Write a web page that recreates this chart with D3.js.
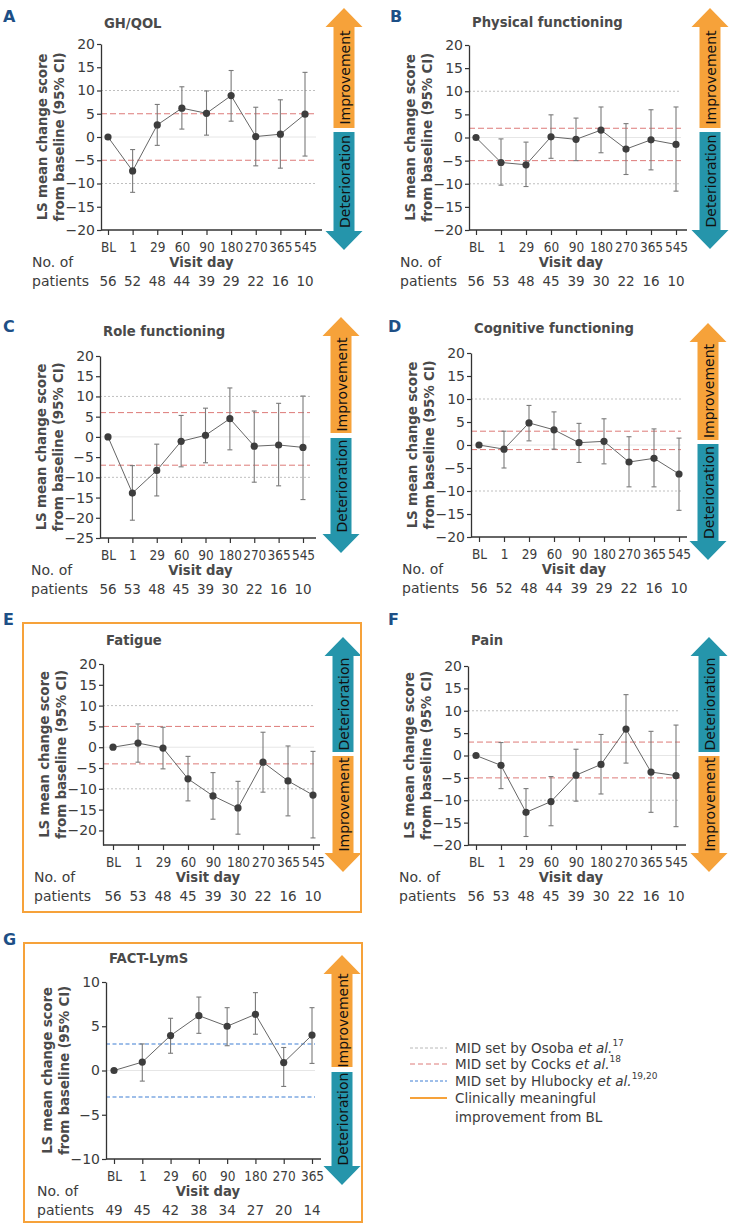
<!DOCTYPE html>
<html><head><meta charset="utf-8">
<script src="https://cdn.jsdelivr.net/npm/d3@7"></script>
<style>
body{margin:0;background:#fff}
svg{display:block}
svg text{font-family:"DejaVu Sans",Verdana,sans-serif}
svg text.xt{font-family:"DejaVu Sans Condensed","Liberation Sans",sans-serif}
</style>
</head><body>
<svg id="chart" width="730" height="1230"></svg>
<script>
// ---------- DATA ----------
const visitDays  = ["BL","1","29","60","90","180","270","365","545"];
const visitDaysG = ["BL","1","29","60","90","180","270","365"];
const yTicks20 = [-20,-15,-10,-5,0,5,10,15,20];
const yTicks25 = [-25,-20,-15,-10,-5,0,5,10,15,20];
const yTicks10 = [-10,-5,0,5,10];

// A GH/QOL
const ghqolMean  = [0,-7.3,2.6,6.2,5.1,8.9,0.1,0.6,4.9];
const ghqolLower = [null,-11.9,-1.8,1.7,0.4,3.4,-6.2,-6.7,-4.1];
const ghqolUpper = [null,-2.7,7.0,10.8,9.9,14.3,6.4,8.0,13.9];
const ghqolN     = [56,52,48,44,39,29,22,16,10];
const ghqolOsoba = [10,-10];
const ghqolCocks = [5,-5];

// B Physical functioning
const physMean  = [0,-5.4,-5.9,0.15,-0.4,1.6,-2.5,-0.5,-1.5];
const physLower = [null,-10.3,-10.6,-4.5,-5.0,-3.3,-8.0,-7.0,-11.6];
const physUpper = [null,-0.3,-1.0,4.9,4.2,6.6,3.0,6.0,6.6];
const physN     = [56,53,48,45,39,30,22,16,10];
const physOsoba = [10,-10];
const physCocks = [2,-5];

// C Role functioning
const roleMean  = [0,-13.9,-8.3,-1.1,0.4,4.5,-2.3,-2.0,-2.6];
const roleLower = [null,-20.6,-14.6,-7.4,-6.4,-3.2,-11.2,-12.1,-15.5];
const roleUpper = [null,-7.1,-1.8,5.3,7.1,12.1,6.4,8.3,10.1];
const roleN     = [56,53,48,45,39,30,22,16,10];
const roleOsoba = [10,-10];
const roleCocks = [6,-7];

// D Cognitive functioning
const cogMean  = [0,-0.9,4.8,3.3,0.5,0.8,-3.7,-2.9,-6.3];
const cogLower = [null,-5.0,0.9,-0.9,-3.8,-4.1,-9.1,-9.1,-14.2];
const cogUpper = [null,3.0,8.6,7.2,4.7,5.7,1.8,3.5,1.5];
const cogN     = [56,52,48,44,39,29,22,16,10];
const cogOsoba = [10,-10];
const cogCocks = [3,-1];

// E Fatigue
const fatMean  = [0,1.0,-0.2,-7.6,-11.7,-14.6,-3.6,-8.1,-11.5];
const fatLower = [null,-3.6,-5.2,-12.9,-17.3,-20.9,-10.8,-16.5,-21.8];
const fatUpper = [null,5.6,4.8,-2.2,-6.1,-8.2,3.6,0.3,-1.0];
const fatN     = [56,53,48,45,39,30,22,16,10];
const fatOsoba = [10,-10];
const fatCocks = [5,-4];

// F Pain
const painMean  = [0,-2.2,-12.7,-10.3,-4.4,-2.0,5.9,-3.7,-4.5];
const painLower = [null,-7.4,-18.1,-15.7,-10.2,-8.6,-1.7,-12.7,-15.9];
const painUpper = [null,2.9,-7.4,-4.7,1.4,4.7,13.6,5.4,6.8];
const painN     = [56,53,48,45,39,30,22,16,10];
const painOsoba = [10,-10];
const painCocks = [3,-5];

// G FACT-LymS
const lymsMean  = [0,0.95,3.95,6.2,5.0,6.35,0.9,4.0];
const lymsLower = [null,-1.2,1.95,4.2,2.8,4.1,-1.8,0.8];
const lymsUpper = [null,3.0,5.9,8.3,7.1,8.8,2.6,7.1];
const lymsN     = [49,45,42,38,34,27,20,14];
const lymsHlubocky = [3,-3];

// ---------- STYLE ----------
const TXT = "#3c3c3c";
const NAVY = "#1d4f86";
const ORANGE = "#f6a23a";
const TEAL = "#2595ab";
const OSOBA_C = "#b8b8b8";
const COCKS_C = "#dd7a78";
const HLUB_C = "#3f7fd4";

const svg = d3.select("#chart");

function arrow(cx, yA, yB, color, label) {
  const hw = 18.5, sw = 10.5, hh = 19;
  const dir = yB > yA ? 1 : -1;
  const hb = yA + dir*hh;
  const pts = [[cx,yA],[cx+hw,hb],[cx+sw,hb],[cx+sw,yB],[cx-sw,yB],[cx-sw,hb],[cx-hw,hb]];
  svg.append("path").attr("d", d3.line()(pts) + "Z").attr("fill", color);
  const mid = (hb + yB)/2;
  svg.append("text").attr("transform", `translate(${cx+0.5},${mid}) rotate(-90)`)
    .attr("text-anchor","middle").attr("dominant-baseline","central")
    .attr("font-size",14).attr("fill","#111").text(label);
}

function panel(c) {
  const g = svg.append("g");
  const x = d3.scalePoint().domain(c.cats).range([c.x0, c.x1]);
  const y = d3.scaleLinear().domain(c.yDomain).range([c.bottom, c.top]);

  g.append("text").attr("x", c.lx).attr("y", c.ly).attr("font-size",16).attr("font-weight","bold")
    .attr("fill", NAVY).text(c.letter);
  g.append("text").attr("x", c.left+3).attr("y", c.ty).attr("font-size",13.2).attr("font-weight","bold")
    .attr("fill", "#4a4a4a").text(c.title);

  // reference lines
  g.append("line").attr("x1",c.left).attr("x2",c.right-6).attr("y1",y(0)).attr("y2",y(0))
    .attr("stroke","#e6e6e6").attr("stroke-width",1);
  (c.osoba||[]).forEach(v => g.append("line").attr("x1",c.left).attr("x2",c.right-6)
    .attr("y1",y(v)).attr("y2",y(v)).attr("stroke",OSOBA_C).attr("stroke-width",0.9).attr("stroke-dasharray","2,2"));
  (c.cocks||[]).forEach(v => g.append("line").attr("x1",c.left).attr("x2",c.right-6)
    .attr("y1",y(v)).attr("y2",y(v)).attr("stroke",COCKS_C).attr("stroke-width",1).attr("stroke-dasharray","6,3"));
  (c.hlub||[]).forEach(v => g.append("line").attr("x1",c.left).attr("x2",c.right-6)
    .attr("y1",y(v)).attr("y2",y(v)).attr("stroke",HLUB_C).attr("stroke-width",1.1).attr("stroke-dasharray","4,2.5"));

  // y axis
  const ya = g.append("g").attr("transform",`translate(${c.left},0)`)
    .call(d3.axisLeft(y).tickValues(c.yTicks).tickSize(4).tickSizeOuter(0).tickPadding(2));
  ya.attr("font-family",null).attr("font-size",null);
  ya.select(".domain").attr("stroke","#333").attr("stroke-width",1.3);
  ya.selectAll(".tick line").attr("stroke","#333").attr("stroke-width",1.2);
  ya.selectAll(".tick text").attr("font-size",14).attr("fill",TXT);

  // x axis
  g.append("line").attr("x1",c.left).attr("x2",c.right).attr("y1",c.bottom).attr("y2",c.bottom)
    .attr("stroke","#333").attr("stroke-width",1.3);
  const xa = g.append("g").attr("transform",`translate(0,${c.bottom})`)
    .call(d3.axisBottom(x).tickSize(5).tickSizeOuter(0).tickPadding(4));
  xa.attr("font-family",null).attr("font-size",null);
  xa.select(".domain").remove();
  xa.selectAll(".tick line").attr("stroke","#333").attr("stroke-width",1.2);
  xa.selectAll(".tick text").attr("class","xt").attr("font-size",13.5).attr("fill",TXT)
    .attr("dy",null).attr("y",17).attr("dominant-baseline","central");

  // y label
  const my = (c.top + c.bottom)/2;
  [["LS mean change score", c.left-59],["from baseline (95% CI)", c.left-42]].forEach(([t,xx]) =>
    g.append("text").attr("transform",`translate(${xx},${my}) rotate(-90)`)
      .attr("text-anchor","middle").attr("dominant-baseline","central")
      .attr("font-size",13.5).attr("letter-spacing",-0.2).attr("font-weight","bold").attr("fill","#4a4a4a").text(t));

  // rows below
  const midX = (c.x0 + c.x1)/2 - 5;
  g.append("text").attr("x", c.left-69).attr("y", c.bottom+32).attr("dominant-baseline","central")
    .attr("font-size",14).attr("fill",TXT).text("No. of");
  g.append("text").attr("x", c.left-69).attr("y", c.bottom+51).attr("dominant-baseline","central")
    .attr("font-size",14).attr("fill",TXT).text("patients");
  g.append("text").attr("x", midX).attr("y", c.bottom+32).attr("dominant-baseline","central")
    .attr("text-anchor","middle").attr("font-size",13.2).attr("font-weight","bold").attr("fill","#4a4a4a").text("Visit day");
  g.selectAll(".cnt").data(c.n).join("text").attr("x",(d,i)=>x(c.cats[i])).attr("y",c.bottom+51)
    .attr("dominant-baseline","central").attr("text-anchor","middle").attr("font-size",13.5).attr("fill",TXT)
    .text(d=>d);

  // data
  const rows = c.cats.map((k,i)=>({k, m:c.mean[i], lo:c.lower[i], hi:c.upper[i]}));
  const eb = rows.filter(d=>d.lo!==null);
  g.selectAll(".eb").data(eb).join("line").attr("x1",d=>x(d.k)).attr("x2",d=>x(d.k))
    .attr("y1",d=>y(d.lo)).attr("y2",d=>y(d.hi)).attr("stroke","#7a7a7a").attr("stroke-width",1.1);
  ["lo","hi"].forEach(f => g.selectAll(".cap"+f).data(eb).join("line")
    .attr("x1",d=>x(d.k)-2.5).attr("x2",d=>x(d.k)+2.5).attr("y1",d=>y(d[f])).attr("y2",d=>y(d[f]))
    .attr("stroke","#7a7a7a").attr("stroke-width",1.1));
  g.append("path").datum(rows).attr("fill","none").attr("stroke","#666").attr("stroke-width",1)
    .attr("d", d3.line().x(d=>x(d.k)).y(d=>y(d.m)));
  g.selectAll(".pt").data(rows).join("circle").attr("cx",d=>x(d.k)).attr("cy",d=>y(d.m))
    .attr("r",3.6).attr("fill","#3d3d3d");

  c.arrows.forEach(a => arrow(c.acx, a[0], a[1], a[2], a[3]));

  if (c.box) svg.append("rect").attr("x",c.box[0]).attr("y",c.box[1]).attr("width",c.box[2]-c.box[0])
    .attr("height",c.box[3]-c.box[1]).attr("fill","none").attr("stroke",ORANGE).attr("stroke-width",2);
}

const IMP = "Improvement", DET = "Deterioration";

panel({letter:"A", lx:3, ly:22, title:"GH/QOL", ty:28, left:101, right:322, top:44, bottom:230, x0:108, x1:305,
  cats:visitDays, yDomain:[-20,20], yTicks:yTicks20, mean:ghqolMean, lower:ghqolLower, upper:ghqolUpper, n:ghqolN,
  osoba:ghqolOsoba, cocks:ghqolCocks, acx:344,
  arrows:[[8,128,ORANGE,IMP],[250,132,TEAL,DET]]});
panel({letter:"B", lx:390, ly:22, title:"Physical functioning", ty:27, left:469, right:687, top:45, bottom:230, x0:476, x1:676,
  cats:visitDays, yDomain:[-20,20], yTicks:yTicks20, mean:physMean, lower:physLower, upper:physUpper, n:physN,
  osoba:physOsoba, cocks:physCocks, acx:710,
  arrows:[[8,128,ORANGE,IMP],[249,132,TEAL,DET]]});
panel({letter:"C", lx:3, ly:332, title:"Role functioning", ty:336, left:100, right:316, top:356, bottom:538, x0:108, x1:303,
  cats:visitDays, yDomain:[-25,20], yTicks:yTicks25, mean:roleMean, lower:roleLower, upper:roleUpper, n:roleN,
  osoba:roleOsoba, cocks:roleCocks, acx:341,
  arrows:[[317,433,ORANGE,IMP],[553,438,TEAL,DET]]});
panel({letter:"D", lx:388, ly:332, title:"Cognitive functioning", ty:333, left:471, right:687, top:353, bottom:537, x0:479, x1:679,
  cats:visitDays, yDomain:[-20,20], yTicks:yTicks20, mean:cogMean, lower:cogLower, upper:cogUpper, n:cogN,
  osoba:cogOsoba, cocks:cogCocks, acx:708,
  arrows:[[323,440,ORANGE,IMP],[560,444,TEAL,DET]]});
panel({letter:"E", lx:3, ly:625, title:"Fatigue", ty:645, left:103, right:320, top:664, bottom:845, x0:113, x1:313,
  cats:visitDays, yDomain:[-23.5,20], yTicks:yTicks20, mean:fatMean, lower:fatLower, upper:fatUpper, n:fatN,
  osoba:fatOsoba, cocks:fatCocks, acx:343, box:[23,623,361,912],
  arrows:[[637,752,TEAL,DET],[872,756,ORANGE,IMP]]});
panel({letter:"F", lx:388, ly:625, title:"Pain", ty:645, left:468, right:686, top:666, bottom:845, x0:476, x1:676,
  cats:visitDays, yDomain:[-20,20], yTicks:yTicks20, mean:painMean, lower:painLower, upper:painUpper, n:painN,
  osoba:painOsoba, cocks:painCocks, acx:709,
  arrows:[[637,752,TEAL,DET],[872,756,ORANGE,IMP]]});
panel({letter:"G", lx:3, ly:945, title:"FACT-LymS", ty:963, left:106, right:321, top:982, bottom:1159, x0:114, x1:312,
  cats:visitDaysG, yDomain:[-10,10], yTicks:yTicks10, mean:lymsMean, lower:lymsLower, upper:lymsUpper, n:lymsN,
  hlub:lymsHlubocky, acx:342, box:[24,943,362,1222],
  arrows:[[955,1067,ORANGE,IMP],[1185,1072,TEAL,DET]]});

// ---------- LEGEND ----------
const legendItems = [
  {name:"MID set by Osoba ", ital:"et al.", sup:"17", color:OSOBA_C, dash:"3,2", w:1},
  {name:"MID set by Cocks ", ital:"et al.", sup:"18", color:COCKS_C, dash:"5,3", w:1},
  {name:"MID set by Hlubocky ", ital:"et al.", sup:"19,20", color:HLUB_C, dash:"3,2", w:1},
  {name:"Clinically meaningful", ital:"", sup:"", color:ORANGE, dash:null, w:2},
];
const legY = [1048,1064,1081,1098];
const lg = svg.append("g");
legendItems.forEach((d,i) => {
  lg.append("line").attr("x1",410).attr("x2",447).attr("y1",legY[i]).attr("y2",legY[i])
    .attr("stroke",d.color).attr("stroke-width",d.w).attr("stroke-dasharray",d.dash);
  const t = lg.append("text").attr("x",455).attr("y",legY[i]).attr("dominant-baseline","central")
    .attr("font-size",13.5).attr("fill",TXT);
  t.append("tspan").text(d.name);
  if (d.ital) t.append("tspan").attr("font-style","italic").text(d.ital);
  if (d.sup) t.append("tspan").attr("font-size",9).attr("dy",-5).text(d.sup);
});
lg.append("text").attr("x",455).attr("y",1117).attr("dominant-baseline","central")
  .attr("font-size",13.5).attr("fill",TXT).text("improvement from BL");
</script>
</body></html>
